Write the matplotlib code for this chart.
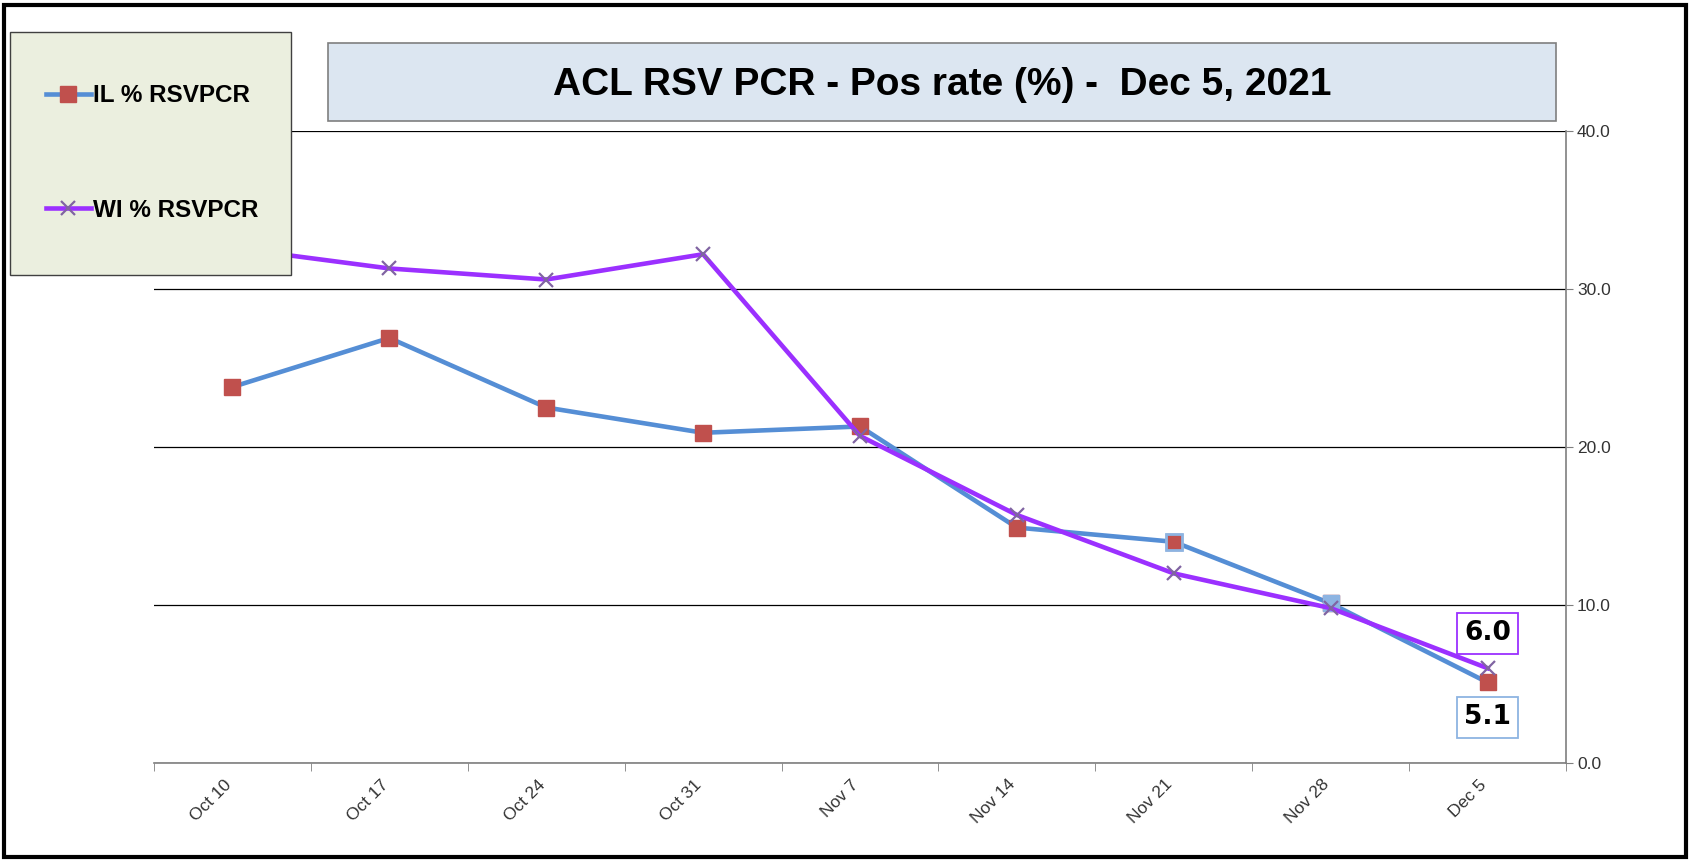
import matplotlib
matplotlib.use("Agg")
import matplotlib.pyplot as plt
from matplotlib.patches import Rectangle
from matplotlib.lines import Line2D
from matplotlib.transforms import ScaledTranslation

plt.rcParams['font.family'] = ['Liberation Sans', 'DejaVu Sans']

# ---- data ----
weeks = ["Oct 10", "Oct 17", "Oct 24", "Oct 31", "Nov 7", "Nov 14", "Nov 21", "Nov 28", "Dec 5"]
il_pct = [23.8, 26.9, 22.5, 20.9, 21.3, 14.9, 14.0, 10.1, 5.1]
wi_pct = [32.6, 31.3, 30.6, 32.2, 20.7, 15.7, 12.0, 9.8, 6.0]
y_ticks = [0, 10, 20, 30, 40]
title = "ACL RSV PCR - Pos rate (%) -  Dec 5, 2021"
il_label = "IL % RSVPCR"
wi_label = "WI % RSVPCR"

IL_LINE = "#558ED5"
IL_MARK = "#C0504D"
IL_LIGHT = "#8DB4E2"
WI_LINE = "#9B30FF"
WI_MARK = "#8064A2"

W, H = 1690, 860
fig = plt.figure(figsize=(W / 100, H / 100), dpi=100)

def fx(px):
    return px / W

def fy(py):
    return 1 - py / H

ax = fig.add_axes([fx(154), fy(763), fx(1566) - fx(154), fy(131) - fy(763)])

x = list(range(len(weeks)))
MS = 11.5
ax.plot(x, il_pct, color=IL_LINE, lw=3.3, marker='s', ms=MS,
        mfc=IL_MARK, mec=IL_MARK, zorder=3)
# special point formatting
ax.plot([x[6]], [il_pct[6]], ls='none', marker='s', ms=MS, mfc=IL_MARK,
        mec=IL_LIGHT, mew=2.0, zorder=4)
ax.plot([x[7]], [il_pct[7]], ls='none', marker='s', ms=MS, mfc=IL_LIGHT,
        mec=IL_LIGHT, zorder=4)
ax.plot(x, wi_pct, color=WI_LINE, lw=3.3, marker='x', ms=10,
        mec=WI_MARK, mew=1.6, zorder=5)

ax.set_xlim(-0.5, len(weeks) - 0.5)
ax.set_ylim(0, 40)
ax.set_yticks(y_ticks)
ax.set_yticklabels([f"{v:.1f}" for v in y_ticks], fontsize=12.5, color="#333333")
ax.yaxis.tick_right()
ax.tick_params(axis='y', direction='out', length=5, color="#7F7F7F", pad=3)
ax.grid(axis='y', color='black', lw=0.9)
ax.set_axisbelow(True)

ax.set_xticks(x)
ax.set_xticklabels(weeks, rotation=45, ha='right', rotation_mode='anchor',
                   fontsize=12.5, color="#333333")
ax.tick_params(axis='x', which='major', length=0, pad=10)
shift = ScaledTranslation(-9 / 100, 0, fig.dpi_scale_trans)
for lab in ax.get_xticklabels():
    lab.set_transform(lab.get_transform() + shift)
ax.set_xticks([i - 0.5 for i in range(len(weeks) + 1)], minor=True)
ax.tick_params(axis='x', which='minor', direction='out', length=6, color="#7F7F7F")

for s in ['left', 'top']:
    ax.spines[s].set_visible(False)
for s in ['bottom', 'right']:
    ax.spines[s].set_color("#7F7F7F")
    ax.spines[s].set_linewidth(1.2)

# annotations
ann_font = dict(family='DejaVu Sans', size=19, weight='bold')
ax.annotate(f"{wi_pct[-1]:.1f}", xy=(x[-1], wi_pct[-1]), xytext=(0, 25),
            textcoords='offset points', ha='center', va='center',
            color='black', **ann_font,
            bbox=dict(boxstyle='square,pad=0.28', fc='white', ec=WI_LINE, lw=1.3), zorder=6)
ax.annotate(f"{il_pct[-1]:.1f}", xy=(x[-1], il_pct[-1]), xytext=(0, -25),
            textcoords='offset points', ha='center', va='center',
            color='black', **ann_font,
            bbox=dict(boxstyle='square,pad=0.28', fc='white', ec=IL_LIGHT, lw=1.3), zorder=6)

# title box
fig.patches.append(Rectangle((fx(328), fy(121)), fx(1556) - fx(328), fy(43) - fy(121),
                             transform=fig.transFigure, fc="#DCE6F1", ec="#7F7F7F",
                             lw=1.2, zorder=1))
fig.text(fx(942), fy(85), title, ha='center', va='center', fontsize=28,
         fontweight='bold', color='black', zorder=2)

# legend box
fig.patches.append(Rectangle((fx(10), fy(275)), fx(291) - fx(10), fy(32) - fy(275),
                             transform=fig.transFigure, fc="#EBEFDF", ec="#404040",
                             lw=1.0, zorder=10))
handles = [Line2D([], [], color=IL_LINE, lw=3.3, marker='s', ms=MS, mfc=IL_MARK, mec=IL_MARK),
           Line2D([], [], color=WI_LINE, lw=3.3, marker='x', ms=10, mec=WI_MARK, mew=1.6)]
leg = fig.legend(handles, [il_label, wi_label], loc='center left',
                 bbox_to_anchor=(fx(46), fy(153)), frameon=False,
                 prop=dict(size=17.5, weight='bold'), handlelength=1.85,
                 handletextpad=0.1, labelspacing=3.75, borderpad=0, borderaxespad=0)
leg.set_zorder(11)

# outer border
fig.patches.append(Rectangle((fx(4), fy(857)), fx(1686) - fx(4), fy(5) - fy(857),
                             transform=fig.transFigure, fc='none', ec='black',
                             lw=3, zorder=20))

fig.savefig("out.png", dpi=100)
